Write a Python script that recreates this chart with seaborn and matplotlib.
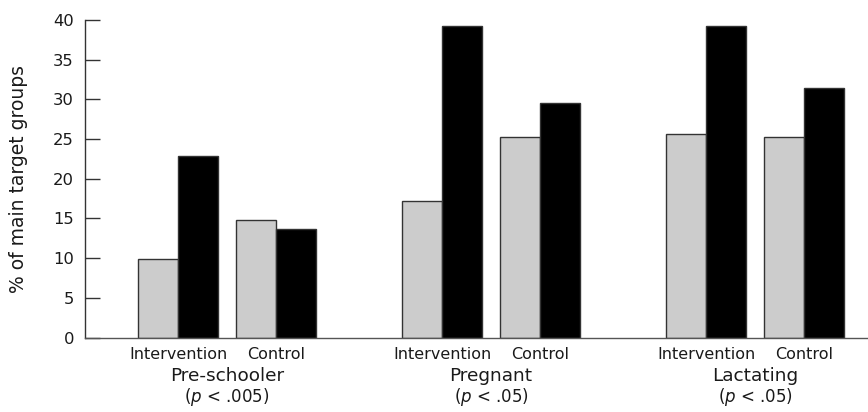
import numpy as np
import pandas as pd
import matplotlib
matplotlib.use("Agg")
import matplotlib.pyplot as plt
import matplotlib.transforms as mtransforms
import seaborn as sns

# Target groups, study arms and significance notes
groups = ["Pre-schooler", "Pregnant", "Lactating"]
p_notes = ["($\\it{p}$ < .005)", "($\\it{p}$ < .05)", "($\\it{p}$ < .05)"]
arms = ["Intervention", "Control"]

# Percent of main target groups per arm (grouped as groups x arms)
baseline = [9.9, 14.8, 17.2, 25.2, 25.6, 25.2]
follow_up = [22.9, 13.7, 39.2, 29.6, 39.2, 31.4]

y_ticks = [0, 5, 10, 15, 20, 25, 30, 35, 40]

sns.set_style("ticks")
plt.rcParams["font.family"] = ["DejaVu Sans"]
plt.rcParams["mathtext.fontset"] = "dejavusans"

# arms sit one unit apart, groups are spaced further apart
group_step = 2.694
rows = []
for gi, g in enumerate(groups):
    for ai, a in enumerate(arms):
        k = gi * len(arms) + ai
        pos = gi * group_step + ai
        rows.append({"pos": pos, "value": baseline[k], "series": "Baseline"})
        rows.append({"pos": pos, "value": follow_up[k], "series": "Follow-up"})
df = pd.DataFrame(rows)

fig = plt.figure(figsize=(8.68, 4.12), dpi=100)
ax = fig.add_axes([85 / 868, 74.5 / 412, 1 - 85 / 868, (337.5 - 20) / 412])

sns.barplot(data=df, x="pos", y="value", hue="series", native_scale=True,
            orient="x", palette=["#cccccc", "#000000"], width=0.816,
            edgecolor="#333333", linewidth=1.0, saturation=1,
            legend=False, ax=ax)

ax.set_ylim(0, 40)
ax.set_xlim(-0.949, 7.04)
ax.set_yticks(y_ticks)
ax.set_yticklabels([str(t) for t in y_ticks], fontsize=11.8, color="#1a1a1a")

arm_pos = [gi * group_step + ai for gi in range(len(groups)) for ai in range(len(arms))]
ax.set_xticks(arm_pos)
ax.set_xticklabels(arms * len(groups), fontsize=11.5, color="#1a1a1a")
ax.tick_params(axis="x", length=0, pad=7)
ax.tick_params(axis="y", direction="in", length=11, width=1, color="#333333", pad=8)

ax.set_xlabel("")
ax.set_ylabel("% of main target groups", fontsize=13.5, color="#1a1a1a", labelpad=18)

sns.despine(ax=ax, right=True, top=True)
ax.spines["left"].set_color("#333333")
ax.spines["bottom"].set_color("#555555")
ax.spines["left"].set_linewidth(1)
ax.spines["bottom"].set_linewidth(1)

# group names and p-values beneath the arm labels
trans = mtransforms.blended_transform_factory(ax.transData, fig.transFigure)
for gi, (g, note) in enumerate(zip(groups, p_notes)):
    cx = gi * group_step + 0.5
    ax.text(cx, 1 - 376 / 412, g, transform=trans, ha="center", va="center",
            fontsize=13.3, color="#1a1a1a")
    ax.text(cx, 1 - 397 / 412, note, transform=trans, ha="center", va="center",
            fontsize=12, color="#1a1a1a")

fig.savefig("out.png", dpi=100)
